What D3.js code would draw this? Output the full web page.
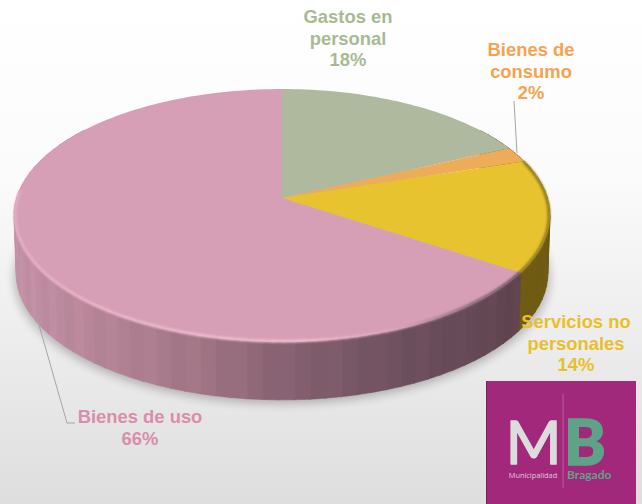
<!DOCTYPE html>
<html><head><meta charset="utf-8">
<script src="https://cdn.jsdelivr.net/npm/d3@7/dist/d3.min.js"></script>
<style>html,body{margin:0;padding:0;background:#fff}svg{display:block}text{font-family:"Liberation Sans",Arial,sans-serif}</style>
</head><body><svg id="c" width="642" height="504"></svg>
<script>
const categories = ["Gastos en personal","Bienes de consumo","Servicios no personales","Bienes de uso"];
const values = [18.0, 2.0, 14.4, 65.6];
const percentLabels = ["18%","2%","14%","66%"];
const labelLines = [["Gastos en","personal"],["Bienes de","consumo"],["Servicios no","personales"],["Bienes de uso"]];
const topColors = ["#afb99e","#eeab58","#e7c32f","#d69fb6"];
const labelColors = ["#a9ba93","#f7a24f","#e9bf2c","#d78fab"];
const wallBase = ["#5c6350","#7a5a2e","#6f5b12","#5f4450"];
const labelCenters = [[348,23],[531,56],[576,328],[140,423]];
const leaderA = [[514,101],[517,153]];
const leaderB = [[37,318],[67,423],[75,423]];

const svg = d3.select("#c");
const defs = svg.append("defs");
const bg = defs.append("linearGradient").attr("id","bg").attr("x1",0).attr("y1",0).attr("x2",0).attr("y2",1);
bg.append("stop").attr("offset","0%").attr("stop-color","#ffffff");
bg.append("stop").attr("offset","35%").attr("stop-color","#fbfbfb");
bg.append("stop").attr("offset","100%").attr("stop-color","#dedede");
defs.append("filter").attr("id","b6").attr("x","-10%").attr("y","-20%").attr("width","120%").attr("height","140%")
  .append("feGaussianBlur").attr("stdDeviation",5);
defs.append("filter").attr("id","b1").attr("x","-5%").attr("y","-5%").attr("width","110%").attr("height","110%")
  .append("feGaussianBlur").attr("stdDeviation",1.1);
svg.append("rect").attr("width",642).attr("height",504).attr("fill","url(#bg)");

// perspective disc: apex (cx,cy); k foreshortening
const cx=282, cy=198, bx=265.4, ay=124, k=-0.138, depth=58;
const project=(a,r=1,dy=0,s=1)=>{
  const u=Math.sin(a)*r, v=-Math.cos(a)*r, w=1+k*v;
  return [cx+s*bx*u/w, cy+dy+ay*v/w];
};
const line=d3.line();
const pie=d3.pie().sort(null).value(d=>d)(values);
const arcPts=(a0,a1,dy=0,s=1,r=1)=>{
  const n=Math.max(2,Math.ceil((a1-a0)/(Math.PI/120)));
  return d3.range(n+1).map(i=>project(a0+(a1-a0)*i/n,r,dy,s));
};
const TAU=2*Math.PI;

// soft shadow below the disc
svg.append("path").attr("d",line(arcPts(0,TAU,depth+4,1.0))+"Z").attr("fill","#000").attr("opacity",.24).attr("filter","url(#b6)");

// side wall: narrow facets coloured along x
const wallPink=d3.scaleLinear().domain([14,100,200,290,400,520]).range(["#c391a5","#b58497","#a07585","#856070","#6e505e","#5f4450"]);
const gW=svg.append("g");
pie.forEach((p,i)=>{
  const a0=Math.max(p.startAngle,Math.PI*0.3), a1=Math.min(p.endAngle,Math.PI*1.7);
  if(a1<=a0) return;
  const step=Math.PI/60;
  const n=Math.ceil((a1-a0)/step);
  d3.range(n).forEach(j=>{
    const s=a0+(a1-a0)*j/n, e=a0+(a1-a0)*(j+1)/n;
    const top=arcPts(s,e+0.006), bot=arcPts(s,e+0.006,depth,.992).reverse();
    const mx=project((s+e)/2)[0];
    const col=i===3?d3.color(wallPink(mx)).brighter(j%3===0?0.05:j%3===1?-0.04:0).formatHex():wallBase[i];
    gW.append("path").attr("d",line(top.concat(bot))+"Z").attr("fill",col).attr("stroke",col).attr("stroke-width",.6);
  });
});

// top face
const gT=svg.append("g");
pie.forEach((p,i)=>{
  gT.append("path").attr("d",line([[cx,cy]].concat(arcPts(p.startAngle,p.endAngle)))+"Z").attr("fill",topColors[i]);
});

// bevel along the rim
const rimPink=d3.scaleLinear().domain([14,120,300,400,470,520]).range(["#e6aec2","#efb9cb","#f2bfd0","#d9a3b8","#8d6a79","#6a4d5a"]);
const gR=svg.append("g").attr("filter","url(#b1)").attr("fill","none").attr("stroke-width",2.6);
pie.forEach((p,i)=>{
  const n=Math.ceil((p.endAngle-p.startAngle)/(Math.PI/90));
  d3.range(n).forEach(j=>{
    const s=p.startAngle+(p.endAngle-p.startAngle)*j/n, e=p.startAngle+(p.endAngle-p.startAngle)*(j+1)/n;
    const pt=project((s+e)/2);
    let col=null;
    if(i===3 && (s+e)/2<Math.PI*1.52) col=rimPink(pt[0]);
    if(i===2) col="#8d7720";
    if(col) gR.append("path").attr("d",line(arcPts(s,e+0.01,0,1,0.996))).attr("stroke",col);
  });
});

// leaders
svg.append("path").attr("d",line(leaderA)).attr("fill","none").attr("stroke","#a6a6a6").attr("stroke-width",1);
svg.append("path").attr("d",line(leaderB)).attr("fill","none").attr("stroke","#a6a6a6").attr("stroke-width",1);

// labels
categories.forEach((c,i)=>{
  const t=svg.append("text").attr("text-anchor","middle").attr("font-weight","700").attr("font-size",18.4).attr("fill",labelColors[i]);
  const lines=labelLines[i].concat([percentLabels[i]]);
  lines.forEach((l,j)=>t.append("tspan").attr("x",labelCenters[i][0]).attr("y",labelCenters[i][1]+j*21.7).text(l));
});

// logo
const L=svg.append("g");
L.append("rect").attr("x",486).attr("y",381).attr("width",150).attr("height",123).attr("fill","#a1287b");
L.append("rect").attr("x",486).attr("y",381).attr("width",1).attr("height",123).attr("fill","#7d1e60");
L.append("rect").attr("x",562.5).attr("y",394).attr("width",1.2).attr("height",94).attr("fill","#b5549a");
L.append("text").attr("x",533.5).attr("y",464).attr("text-anchor","middle").attr("font-size",60).attr("fill","#dcdcdc").attr("stroke","#dcdcdc").attr("stroke-width",1.6).attr("stroke-linejoin","round").style("font-family","Lato,sans-serif").text("M");
L.append("text").attr("x",585).attr("y",465).attr("text-anchor","middle").attr("font-size",63).attr("font-weight",900).attr("fill","#5ea387").attr("stroke","#5ea387").attr("stroke-width",1.5).style("font-family","Lato,sans-serif").text("B");
L.append("text").attr("x",533).attr("y",478).attr("text-anchor","middle").attr("font-size",7.4).attr("fill","#e3c6dc").style("font-family","'Open Sans',sans-serif").text("Municipalidad");
L.append("text").attr("x",567).attr("y",479).attr("font-size",12).attr("font-weight",700).attr("fill","#5ea387").style("font-family","Lato,sans-serif").text("Bragado");
</script></body></html>
